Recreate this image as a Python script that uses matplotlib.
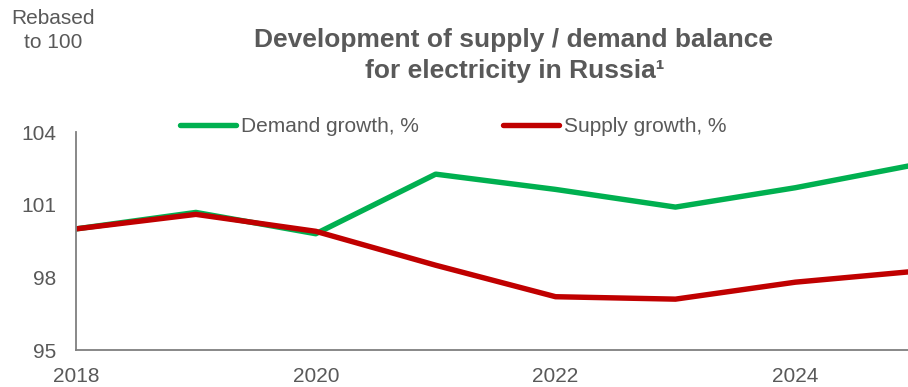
import matplotlib
matplotlib.use("Agg")
import matplotlib.pyplot as plt

plt.rcParams['font.family'] = ['Liberation Sans', 'DejaVu Sans']

years = [2018, 2019, 2020, 2021, 2022, 2023, 2024, 2025]
demand = [100.0, 100.68, 99.8, 102.26, 101.63, 100.9, 101.7, 102.65]
supply = [100.0, 100.6, 99.9, 98.5, 97.2, 97.1, 97.8, 98.25]
yticks = [95, 98, 101, 104]
xticks = [2018, 2020, 2022, 2024]

GREY = '#595959'
GREEN = '#00B050'
RED = '#C00000'

fig = plt.figure(figsize=(9.08, 3.87), dpi=100)
ax = fig.add_axes([0.0837, 0.0956, 1 - 0.0837, 0.5633])

ax.plot(years, demand, color=GREEN, lw=3.9, label='Demand growth, %', solid_capstyle='round')
ax.plot(years, supply, color=RED, lw=3.9, label='Supply growth, %', solid_capstyle='round')

ax.set_xlim(2018, 2024.94)
ax.set_ylim(95, 104)
ax.set_xticks(xticks)
ax.set_yticks(yticks)
ax.tick_params(axis='both', length=0, labelsize=15, labelcolor=GREY)
ax.tick_params(axis='y', pad=14)
ax.tick_params(axis='x', pad=12)

for side in ('top', 'right'):
    ax.spines[side].set_visible(False)
for side in ('left', 'bottom'):
    ax.spines[side].set_color('#7f7f7f')
    ax.spines[side].set_linewidth(1.3)

leg = ax.legend(loc='center left', bbox_to_anchor=(0.125, 1.023), ncol=2,
                frameon=False, fontsize=15, handlelength=2.7, handletextpad=0.25,
                columnspacing=4.0, borderpad=0, borderaxespad=0)
for t in leg.get_texts():
    t.set_color(GREY)

fig.text(53 / 908, 1 - 18 / 387, 'Rebased', ha='center', va='center', fontsize=15, color=GREY)
fig.text(53 / 908, 1 - 42 / 387, 'to 100', ha='center', va='center', fontsize=15, color=GREY)

fig.text(514 / 908, 1 - 40 / 387, 'Development of supply / demand balance',
         ha='center', va='center', fontsize=19, fontweight='bold', color=GREY)
fig.text(515 / 908, 1 - 71 / 387, 'for electricity in Russia\u00b9',
         ha='center', va='center', fontsize=19, fontweight='bold', color=GREY)

fig.savefig('out.png', dpi=100)
